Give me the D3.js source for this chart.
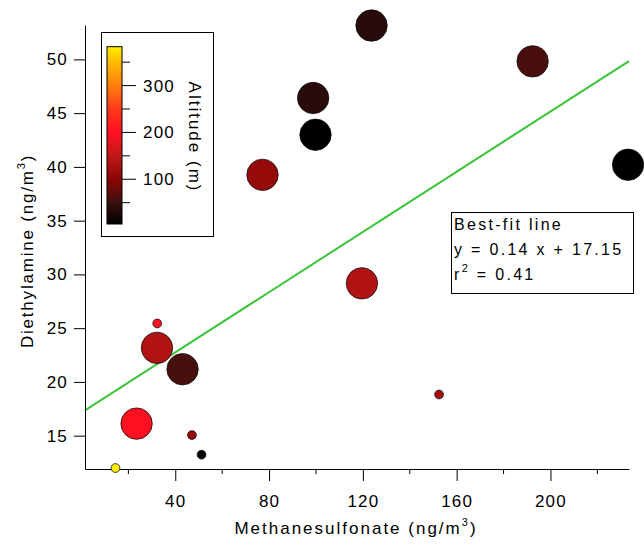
<!DOCTYPE html>
<html>
<head>
<meta charset="utf-8">
<script src="https://cdn.jsdelivr.net/npm/d3@7"></script>
<style>
  body { margin: 0; background: #fff; }
  text { font-family: "Liberation Sans", Arial, sans-serif; }
</style>
</head>
<body>
<svg id="chart" width="644" height="548"></svg>
<script>
// 資料
const msa = [123.7, 192.4, 98.8, 99.8, 233.1, 77.2, 119.6, 32.3, 32.2, 43.1, 23.5, 47.1, 51.2, 14.5, 152.5];
const dea = [53.15, 49.82, 46.41, 42.99, 40.2, 39.26, 29.17, 25.44, 23.17, 21.18, 16.12, 15.06, 13.23, 11.99, 18.83];
const altitude = [35, 60, 37, 4, 4, 110, 135, 205, 135, 58, 200, 110, 5, 383, 125];
const sampleType = ["L", "L", "L", "L", "L", "L", "L", "S", "L", "L", "L", "S", "S", "S", "S"];
const fitSlope = 0.14;
const fitIntercept = 17.15;
const fitR2 = 0.41;
const xTicks = [40, 80, 120, 160, 200];
const xMinorTicks = [20, 60, 100, 140, 180, 220];
const yTicks = [15, 20, 25, 30, 35, 40, 45, 50];
const altTicks = [100, 200, 300];
const altMinorTicks = [50, 150, 250, 350];

const data = msa.map((x, i) => ({ x: x, y: dea[i], alt: altitude[i], type: sampleType[i] }));

const svg = d3.select("#chart");

// 座標比例尺
const xScale = d3.scaleLinear().domain([1.5, 233.5]).range([85, 629]);
const yScale = d3.scaleLinear().domain([11.9, 53.2]).range([469, 25]);
const rScale = d3.scaleOrdinal().domain(["L", "S"]).range([15.7, 4.4]);

// 色階 (black -> red -> yellow)
const altDomain = [4.5, 383];
const stopT = [0, 0.12, 0.25, 0.38, 0.52, 0.65, 0.78, 0.91, 1];
const stopC = ["#000000", "#3a1010", "#8a0606", "#c01818", "#ff1020", "#ff3a1a", "#ff7e10", "#ffb800", "#ffef00"];
const tScale = d3.scaleLinear().domain(altDomain).range([0, 1]).clamp(true);
const cScale = d3.scaleLinear().domain(stopT).range(stopC).interpolate(d3.interpolateRgb);
const color = (a) => cScale(tScale(a));

// 擬合線
const fitLine = d3.line().x(d => xScale(d)).y(d => yScale(fitSlope * d + fitIntercept));
svg.append("path")
  .datum(xScale.domain())
  .attr("d", fitLine)
  .attr("fill", "none")
  .attr("stroke", "#3cc43c")
  .attr("stroke-width", 2);

// 座標軸
const xAxis = svg.append("g").attr("transform", `translate(0,${yScale.range()[0]})`);
xAxis.call(d3.axisBottom(xScale).tickValues(xTicks).tickSize(12).tickSizeOuter(0).tickPadding(14).tickFormat(d3.format("d")));
xAxis.selectAll(".minor")
  .data(xMinorTicks).enter()
  .append("line").attr("class", "minor")
  .attr("x1", d => xScale(d)).attr("x2", d => xScale(d))
  .attr("y1", 0).attr("y2", 5)
  .attr("stroke", "#000");

const yAxis = svg.append("g").attr("transform", `translate(${xScale.range()[0]},0)`);
yAxis.call(d3.axisLeft(yScale).tickValues(yTicks).tickSize(11).tickSizeOuter(0).tickPadding(6).tickFormat(d3.format("d")));

svg.selectAll(".domain").attr("stroke", "#000");
svg.selectAll(".tick line").attr("stroke", "#000");
svg.selectAll(".tick text")
  .style("font-size", "17px")
  .style("letter-spacing", "1.2px")
  .attr("fill", "#000");

// 軸標題
const xTitle = svg.append("text")
  .attr("x", 356).attr("y", 534)
  .attr("text-anchor", "middle")
  .style("font-size", "17px")
  .style("letter-spacing", "2px");
xTitle.append("tspan").text("Methanesulfonate (ng/m");
xTitle.append("tspan").attr("dy", -8).style("font-size", "11px").text("3");
xTitle.append("tspan").attr("dy", 8).text(")");

const yTitle = svg.append("text")
  .attr("transform", "translate(33,251) rotate(-90)")
  .attr("text-anchor", "middle")
  .style("font-size", "17px")
  .style("letter-spacing", "1.8px");
yTitle.append("tspan").text("Diethylamine (ng/m");
yTitle.append("tspan").attr("dy", -8).style("font-size", "11px").text("3");
yTitle.append("tspan").attr("dy", 8).text(")");

// 散點
svg.append("g")
  .selectAll("circle")
  .data(data)
  .enter()
  .append("circle")
  .attr("cx", d => xScale(d.x))
  .attr("cy", d => yScale(d.y))
  .attr("r", d => rScale(d.type))
  .attr("fill", d => color(d.alt))
  .attr("stroke", "#111")
  .attr("stroke-width", 0.8);

// 色條圖例
svg.append("rect")
  .attr("x", 101.5).attr("y", 32.5)
  .attr("width", 112).attr("height", 204)
  .attr("fill", "#fff").attr("stroke", "#000");

const defs = svg.append("defs");
const grad = defs.append("linearGradient")
  .attr("id", "altGrad")
  .attr("x1", 0).attr("y1", 1).attr("x2", 0).attr("y2", 0);
grad.selectAll("stop")
  .data(d3.range(0, 1.0001, 0.02))
  .enter().append("stop")
  .attr("offset", d => d)
  .attr("stop-color", d => cScale(d));

const altScale = d3.scaleLinear().domain(altDomain).range([224, 46.7]);
svg.append("rect")
  .attr("x", 107).attr("y", altScale.range()[1])
  .attr("width", 15).attr("height", altScale.range()[0] - altScale.range()[1])
  .attr("fill", "url(#altGrad)")
  .attr("stroke", "#000").attr("stroke-width", 1);

const cbar = svg.append("g").attr("transform", "translate(122,0)");
cbar.selectAll(".major")
  .data(altTicks).enter()
  .append("line").attr("class", "major")
  .attr("x1", 0).attr("x2", 14)
  .attr("y1", d => altScale(d)).attr("y2", d => altScale(d))
  .attr("stroke", "#000");
cbar.selectAll(".minor")
  .data(altMinorTicks).enter()
  .append("line").attr("class", "minor")
  .attr("x1", 0).attr("x2", 8)
  .attr("y1", d => altScale(d)).attr("y2", d => altScale(d))
  .attr("stroke", "#000");
cbar.selectAll(".lbl")
  .data(altTicks).enter()
  .append("text").attr("class", "lbl")
  .attr("x", 21).attr("y", d => altScale(d))
  .attr("dy", "0.35em")
  .style("font-size", "17px")
  .style("letter-spacing", "1.2px")
  .text(d => d);

svg.append("text")
  .attr("transform", "translate(189,137) rotate(90)")
  .attr("text-anchor", "middle")
  .style("font-size", "17px")
  .style("letter-spacing", "2px")
  .text("Altitude (m)");

// 擬合結果註解
svg.append("rect")
  .attr("x", 451.5).attr("y", 212.5)
  .attr("width", 182).attr("height", 81)
  .attr("fill", "#fff").attr("stroke", "#000");

const note = svg.append("g").style("font-size", "16px").style("letter-spacing", "2.3px");
note.append("text").attr("x", 454).attr("y", 230).text("Best-fit line");
note.append("text").attr("x", 454).attr("y", 255).text(`y = ${fitSlope} x + ${fitIntercept}`);
const r2 = note.append("text").attr("x", 454).attr("y", 280);
r2.append("tspan").text("r");
r2.append("tspan").attr("dy", -8).style("font-size", "11px").text("2");
r2.append("tspan").attr("dy", 8).text(` = ${fitR2}`);
</script>
</body>
</html>
